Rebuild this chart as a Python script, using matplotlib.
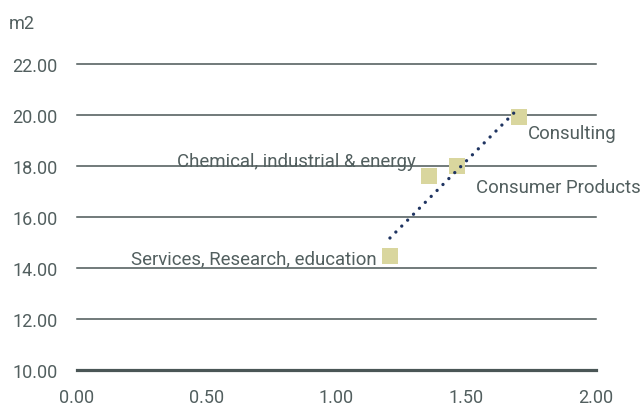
import numpy as np
import matplotlib.pyplot as plt

plt.rcParams['font.family'] = ['Roboto', 'DejaVu Sans']

# Sector averages
sectors = ['Services, Research, education', 'Chemical, industrial & energy',
           'Consumer Products', 'Consulting']
x_vals = [1.206, 1.356, 1.464, 1.703]
y_vals = [14.47, 17.61, 18.00, 19.92]

x_ticks = [0.0, 0.5, 1.0, 1.5, 2.0]
y_ticks = [10, 12, 14, 16, 18, 20, 22]

text_col = '#525f5f'
grid_col = '#4a5656'
marker_col = '#d9d69e'
trend_col = '#1f3461'

fig = plt.figure(figsize=(6.42, 4.06), dpi=100)
ax = fig.add_axes([77 / 642, 35 / 406, 519 / 642, 306 / 406])

for yt in y_ticks:
    ax.axhline(yt, color=grid_col, lw=2.3 if yt == 10 else 1.1, zorder=1,
               clip_on=False)

ax.scatter(x_vals, y_vals, marker='s', s=135, color=marker_col, lw=0, zorder=2)

# linear trend line over the data range
k, b = np.polyfit(x_vals, y_vals, 1)
xs = np.array([min(x_vals), max(x_vals)])
ax.plot(xs, k * xs + b, color=trend_col, lw=2.4, ls=(0, (0.01, 2.5)),
        dash_capstyle='round', zorder=3)

# label offsets in points, relative to each marker
offsets = [(-9.4, -1.4, 'right'),
           (-9.4, 10.8, 'right'),
           (13.7, -15, 'left'),
           (6.5, -11.5, 'left')]
for name, x, y, (dx, dy, ha) in zip(sectors, x_vals, y_vals, offsets):
    ax.annotate(name, (x, y), xytext=(dx, dy), textcoords='offset points',
                ha=ha, va='center', fontsize=13.4, color=text_col, zorder=4)

ax.set_xlim(0, 2)
ax.set_ylim(10, 22)
ax.set_xticks(x_ticks)
ax.set_xticklabels([f'{v:.2f}' for v in x_ticks])
ax.set_yticks(y_ticks)
ax.set_yticklabels([f'{v:.2f}' for v in y_ticks])
ax.tick_params(length=0, labelsize=13, labelcolor=text_col)
ax.tick_params(axis='x', pad=13)
ax.tick_params(axis='y', pad=14)
for sp in ax.spines.values():
    sp.set_visible(False)

fig.text(9 / 642, 1 - 24 / 406, 'm2', fontsize=13, color=text_col,
         ha='left', va='center')

fig.savefig('out.png', dpi=100)
